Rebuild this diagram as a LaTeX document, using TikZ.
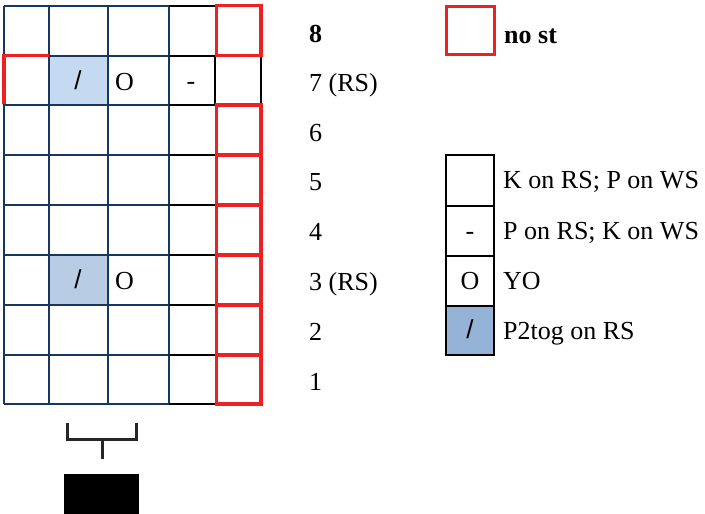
\documentclass[tikz,border=0pt]{standalone}
\usepackage{fontspec}
\setmainfont{Liberation Serif}
\newfontfamily\arialf{Liberation Sans}
\definecolor{navy}{RGB}{23,55,94}
\definecolor{redbox}{RGB}{237,32,36}
\definecolor{lightA}{RGB}{197,217,241}
\definecolor{lightB}{RGB}{184,204,228}
\definecolor{legblue}{RGB}{149,179,215}
\begin{document}
\begin{tikzpicture}[x=1pt,y=-1pt,
  navyline/.style={draw=navy,line width=2pt},
  blkline/.style={draw=black,line width=2pt},
  redsq/.style={draw=redbox,line width=3.4pt},
  legbox/.style={draw=black,line width=2pt},
  txt/.style={font=\fontsize{26}{30}\selectfont,inner sep=0pt,anchor=base west},
  sym/.style={font=\fontsize{26}{30}\selectfont,inner sep=0pt,anchor=base},
  slash/.style={font=\arialf\fontsize{26}{30}\selectfont,inner sep=0pt,anchor=base},
  bracepath/.style={draw=black!85,line width=3pt}]
\useasboundingbox (0,0) rectangle (705,514);
% shaded cells
\fill[lightA] (49,55.5) rectangle (108,105);
\fill[lightB] (49,255) rectangle (108,305);
% navy grid
\foreach \x in {4,49,108,169} \draw[navyline] (\x,5.5) -- (\x,404);
\foreach \y in {5.5,55.5,105,155,205,255,305,355,404} \draw[navyline] (4,\y) -- (169,\y);
% black lines in column 4 and row 7 column 5
\foreach \y in {5.5,55.5,105,155,205,255,305,355,404} \draw[blkline] (169,\y) -- (215,\y);
\draw[blkline] (215,55.5) -- (215,105);
\draw[blkline] (261,55.5) -- (261,105);
% red boxes
\foreach \a/\b in {5.5/55.5,105/155,155/205,205/255,255/305,305/355,355/404}
  \draw[redsq] (216.5,\a) rectangle (261,\b);
\draw[redsq] (4,104) -- (4,55.5) -- (49,55.5);
% symbols in chart
\node[slash] (s7) at (78,89) {/};
\node[sym,anchor=base west] (o7) at (115,90) {O};
\node[sym] (d7) at (191,89) {-};
\node[slash] (s3) at (78,288) {/};
\node[sym,anchor=base west] (o3) at (115,289) {O};
% row labels
\node[txt] (r8) at (309,42) {\textbf{8}};
\node[txt] (r7) at (309,91) {7 (RS)};
\node[txt] (r6) at (309,141) {6};
\node[txt] (r5) at (309,190) {5};
\node[txt] (r4) at (309,240) {4};
\node[txt] (r3) at (309,290) {3 (RS)};
\node[txt] (r2) at (309,340) {2};
\node[txt] (r1) at (309,390) {1};
% legend
\draw[redsq] (446.5,6.5) rectangle (494.5,54.5);
\node[txt] (nost) at (504,43) {\textbf{no st}};
\draw[legbox] (446,155) rectangle (494,206);
\draw[legbox] (446,206) rectangle (494,256);
\draw[legbox] (446,256) rectangle (494,306);
\draw[legbox,fill=legblue] (446,306) rectangle (494,355);
\node[sym] (ld) at (470,239) {-};
\node[sym] (lo) at (470,289) {O};
\node[slash] (ls) at (470,338) {/};
\node[txt] (l1) at (503,188) {K on RS; P on WS};
\node[txt] (l2) at (503,239) {P on RS; K on WS};
\node[txt] (l3) at (503,289) {YO};
\node[txt] (l4) at (503,339) {P2tog on RS};
% brace and black box
\draw[bracepath] (67,423) -- (67,439) -- (136,439) -- (136,423);
\draw[bracepath] (102,439) -- (102,459);
\fill[black] (64,474) rectangle (139,514);
\end{tikzpicture}
\end{document}
